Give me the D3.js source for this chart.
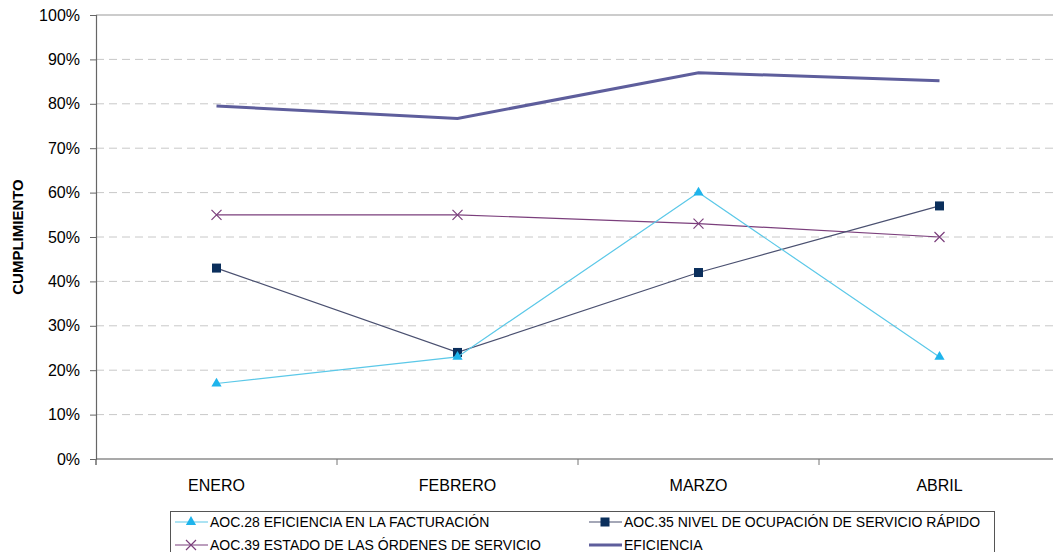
<!DOCTYPE html>
<html><head><meta charset="utf-8">
<script src="https://cdn.jsdelivr.net/npm/d3@7"></script>
<style>body{margin:0;background:#fff}svg{display:block;font-family:Arial,"Liberation Sans",sans-serif}</style>
</head><body><svg id="c" width="1053" height="552"></svg>
<script>
const categories = ["ENERO","FEBRERO","MARZO","ABRIL"];
const aoc28 = [0.17,0.23,0.60,0.23];
const aoc35 = [0.43,0.24,0.42,0.57];
const aoc39 = [0.55,0.55,0.53,0.50];
const eficiencia = [0.795,0.767,0.870,0.852];
const yTicks = [0,0.1,0.2,0.3,0.4,0.5,0.6,0.7,0.8,0.9,1.0];
const seriesNames = ["AOC.28 EFICIENCIA EN LA FACTURACIÓN","AOC.35 NIVEL DE OCUPACIÓN DE SERVICIO RÁPIDO","AOC.39 ESTADO DE LAS ÓRDENES DE SERVICIO","EFICIENCIA"];

const FONT = "Arial,'Liberation Sans',sans-serif";
const svg = d3.select("#c");
const x = d3.scaleBand().domain(categories).range([96,1060]);
const y = d3.scaleLinear().domain([0,1]).range([459,15]);

// grid
svg.append("g").selectAll("line").data(yTicks.filter(t=>t>0&&t<1)).join("line")
  .attr("x1",96).attr("x2",1053).attr("y1",d=>y(d)).attr("y2",d=>y(d))
  .attr("stroke","#c8c8c8").attr("stroke-dasharray","8,5").attr("stroke-width",1);
svg.append("line").attr("x1",96).attr("x2",1053).attr("y1",y(1)).attr("y2",y(1)).attr("stroke","#999").attr("stroke-width",1.2);

// y axis
const ya = svg.append("g").attr("transform","translate(96,0)")
  .call(d3.axisLeft(y).tickValues(yTicks).tickFormat(d3.format(".0%")).tickSize(6).tickPadding(10));
ya.select(".domain").attr("stroke","#666").attr("stroke-width",1.2);
ya.selectAll(".tick line").attr("stroke","#666");
ya.selectAll("text").attr("font-size",16).attr("fill","#000").attr("font-family",FONT);

// x axis
const xa = svg.append("g").attr("transform","translate(0,459)")
  .call(d3.axisBottom(x).tickSize(0).tickPadding(21));
xa.select(".domain").attr("stroke","#555").attr("stroke-width",1.2).attr("d","M96,0H1053");
xa.selectAll("text").attr("font-size",16).attr("fill","#000").attr("font-family",FONT);
svg.append("g").selectAll("line").data(categories).join("line")
  .attr("x1",d=>x(d)).attr("x2",d=>x(d)).attr("y1",459).attr("y2",465).attr("stroke","#777");
svg.append("line").attr("x1",96).attr("x2",96).attr("y1",459).attr("y2",465).attr("stroke","#666");

// y title
svg.append("text").attr("transform","translate(23,237) rotate(-90)").attr("text-anchor","middle")
  .attr("font-size",15).attr("font-weight","bold").text("CUMPLIMIENTO");

const cx = c => x(c)+x.bandwidth()/2;
const line = d3.line().x((d,i)=>cx(categories[i])).y(d=>y(d));

const styles = [
  {data:aoc28, stroke:"#5BC8E8", w:1.2, marker:"tri", mc:"#1EB4EC"},
  {data:aoc35, stroke:"#4A5070", w:1.2, marker:"sq", mc:"#0B2F5C"},
  {data:aoc39, stroke:"#7B3F7C", w:1.2, marker:"x", mc:"#7B3F7C"},
  {data:eficiencia, stroke:"#5E5E9C", w:3, marker:null}
];

function drawMarker(g, type, px, py, col){
  if(type==="tri") g.append("path").attr("d",d3.symbol(d3.symbolTriangle,45)()).attr("transform",`translate(${px},${py})`).attr("fill",col);
  else if(type==="sq") g.append("rect").attr("x",px-4.5).attr("y",py-4.5).attr("width",9).attr("height",9).attr("fill",col);
  else if(type==="x") g.append("path").attr("d",`M${px-5},${py-5}L${px+5},${py+5}M${px-5},${py+5}L${px+5},${py-5}`).attr("stroke",col).attr("stroke-width",1.2).attr("fill","none");
}

[3,2,1,0].forEach(k=>{
  const s = styles[k];
  const g = svg.append("g");
  g.append("path").datum(s.data).attr("d",line).attr("fill","none").attr("stroke",s.stroke).attr("stroke-width",s.w);
  if(s.marker) s.data.forEach((v,i)=>drawMarker(g,s.marker,cx(categories[i]),y(v),s.mc));
});

// legend
const lg = svg.append("g");
lg.append("rect").attr("x",170.5).attr("y",511.5).attr("width",824).attr("height",45).attr("fill","#fff").attr("stroke","#555");
const pos = [[175,522],[589,522],[175,545],[589,545]];
seriesNames.forEach((n,i)=>{
  const s = styles[i]; const [lx,ly]=pos[i];
  lg.append("line").attr("x1",lx).attr("x2",lx+33).attr("y1",ly).attr("y2",ly).attr("stroke",s.stroke).attr("stroke-width",s.w);
  if(s.marker) drawMarker(lg,s.marker,lx+16,ly,s.mc);
  lg.append("text").attr("x",lx+35).attr("y",ly+5).attr("font-size",14).attr("fill","#000").text(n);
});
</script></body></html>
